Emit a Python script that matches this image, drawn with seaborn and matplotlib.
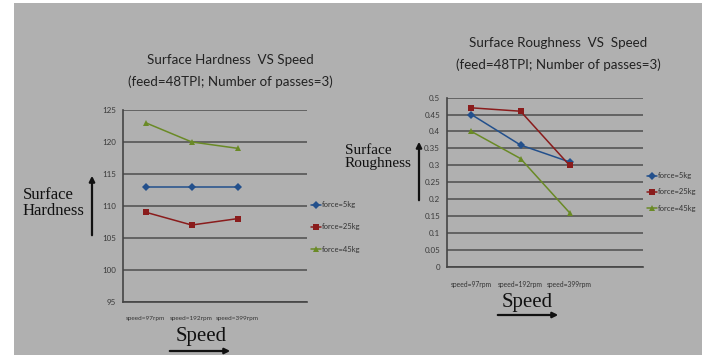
import matplotlib
matplotlib.use("Agg")
import matplotlib.pyplot as plt
import seaborn as sns
import pandas as pd
from matplotlib.patches import Rectangle

speeds = ["speed=97rpm", "speed=192rpm", "speed=399rpm"]
forces = ["force=5kg", "force=25kg", "force=45kg"]
hard_5 = [113, 113, 113]
hard_25 = [109, 107, 108]
hard_45 = [123, 120, 119]
rough_5 = [0.45, 0.36, 0.31]
rough_25 = [0.47, 0.46, 0.30]
rough_45 = [0.40, 0.32, 0.16]
hard_ticks = [95, 100, 105, 110, 115, 120, 125]
rough_ticks = [0, 0.05, 0.1, 0.15, 0.2, 0.25, 0.3, 0.35, 0.4, 0.45, 0.5]
rough_ticklabels = ["0", "0.05", "0.1", "0.15", "0.2", "0.25", "0.3", "0.35", "0.4", "0.45", "0.5"]

def long_df(series):
    rows = []
    for f, vals in zip(forces, series):
        for s, v in zip(speeds, vals):
            rows.append({"speed": s, "value": v, "force": f})
    return pd.DataFrame(rows)

df_h = long_df([hard_5, hard_25, hard_45])
df_r = long_df([rough_5, rough_25, rough_45])

sns.set_style("white")
plt.rcParams["font.family"] = ["Lato", "DejaVu Sans"]

BG = "#b0b0b0"
palette = {"force=5kg": "#23508c", "force=25kg": "#8a1c1c", "force=45kg": "#6a8a26"}
markers = {"force=5kg": "D", "force=25kg": "s", "force=45kg": "^"}
narrow = ["Lato", "DejaVu Sans"]
serif = ["Liberation Serif", "DejaVu Serif"]

W, H = 702, 355
fig = plt.figure(figsize=(W / 100, H / 100), dpi=100)
fig.patch.set_facecolor("white")
fig.add_artist(Rectangle((14 / W, 0), 1 - 14 / W, (H - 3) / H, transform=fig.transFigure,
                         facecolor=BG, edgecolor="none", zorder=-10))

def px_axes(x0, x1, ytop, ybot):
    return fig.add_axes([x0 / W, (H - ybot) / H, (x1 - x0) / W, (ybot - ytop) / H])

def style_axes(ax, ticks, ticklabels, ylim, label_pad, xls):
    ax.set_facecolor("none")
    ax.set_xlim(-0.5, 3.5)
    ax.set_ylim(*ylim)
    ax.set_yticks(ticks)
    ax.set_yticklabels(ticklabels)
    ax.set_xticks([0, 1, 2])
    ax.set_xticklabels(speeds)
    ax.set_xticks([-0.5, 0.5, 1.5, 2.5, 3.5], minor=True)
    ax.tick_params(axis="x", which="major", length=0, pad=label_pad, labelsize=xls, labelcolor="#333333")
    ax.tick_params(axis="x", which="minor", length=3, width=1, color="#444444", direction="out")
    ax.tick_params(axis="y", which="major", length=3, width=1, color="#444444", labelsize=5.8,
                   labelcolor="#3a3a3a", pad=2)
    ax.yaxis.grid(True, color="#555555", linewidth=1.2)
    ax.set_axisbelow(True)
    for s in ["top", "right"]:
        ax.spines[s].set_visible(False)
    for s in ["left", "bottom"]:
        ax.spines[s].set_color("#444444")
        ax.spines[s].set_linewidth(1.2)
    ax.set_xlabel("")
    ax.set_ylabel("")

# Left chart
ax1 = px_axes(122.7, 306.7, 110, 301.7)
sns.lineplot(data=df_h, x="speed", y="value", hue="force", style="force", palette=palette,
             markers=markers, dashes=False, markersize=4, markeredgewidth=0, linewidth=1.1,
             ax=ax1, legend=True)
style_axes(ax1, hard_ticks, [str(t) for t in hard_ticks], (95, 125), 10, 4.6)
h, l = ax1.get_legend_handles_labels()
ax1.legend(h, l, loc="center left", bbox_to_anchor=(311 / W, (H - 227) / H),
           bbox_transform=fig.transFigure, frameon=False, fontsize=5.5, labelspacing=2.0,
           handlelength=1.3, handletextpad=0.1, borderpad=0, borderaxespad=0, labelcolor="#333333")

# Right chart
ax2 = px_axes(447, 643, 97.7, 266.7)
sns.lineplot(data=df_r, x="speed", y="value", hue="force", style="force", palette=palette,
             markers=markers, dashes=False, markersize=4, markeredgewidth=0, linewidth=1.1,
             ax=ax2, legend=True)
style_axes(ax2, rough_ticks, rough_ticklabels, (0, 0.5), 10, 4.9)
h, l = ax2.get_legend_handles_labels()
ax2.legend(h, l, loc="center left", bbox_to_anchor=(647 / W, (H - 192) / H),
           bbox_transform=fig.transFigure, frameon=False, fontsize=5.5, labelspacing=1.2,
           handlelength=1.3, handletextpad=0.1, borderpad=0, borderaxespad=0, labelcolor="#333333")

# Titles
def ftext(x, y, s, **kw):
    fig.text(x / W, (H - y) / H, s, **kw)

ftext(230, 60, "Surface Hardness  VS Speed", ha="center", va="center", fontsize=9.6,
      family=narrow, color="#222222")
ftext(230, 82, "(feed=48TPI; Number of passes=3)", ha="center", va="center", fontsize=9.6,
      family=narrow, color="#222222")
ftext(558, 43, "Surface Roughness  VS  Speed", ha="center", va="center", fontsize=9.6,
      family=narrow, color="#222222")
ftext(558, 65, "(feed=48TPI; Number of passes=3)", ha="center", va="center", fontsize=9.6,
      family=narrow, color="#222222")

# Axis labels (serif) and arrows
ftext(23, 203, "Surface\nHardness", ha="left", va="center", fontsize=12, family=serif,
      color="#111111", linespacing=1.0)
ftext(345, 157, "Surface\nRoughness", ha="left", va="center", fontsize=11, family=serif,
      color="#111111", linespacing=1.0)
ftext(201, 337, "Speed", ha="center", va="center", fontsize=15, family=serif, color="#111111")
ftext(527, 302, "Speed", ha="center", va="center", fontsize=15, family=serif, color="#111111")

def arrow(x0, y0, x1, y1):
    fig.add_artist(matplotlib.patches.FancyArrowPatch(
        (x0 / W, (H - y0) / H), (x1 / W, (H - y1) / H), transform=fig.transFigure,
        arrowstyle="-|>", mutation_scale=8, linewidth=1.6, color="#111111"))

arrow(92, 238, 92, 173)
arrow(419, 203, 419, 139)
arrow(167, 351, 233, 351)
arrow(495, 315, 561, 315)

fig.savefig("out.png", dpi=100, facecolor=fig.get_facecolor())
